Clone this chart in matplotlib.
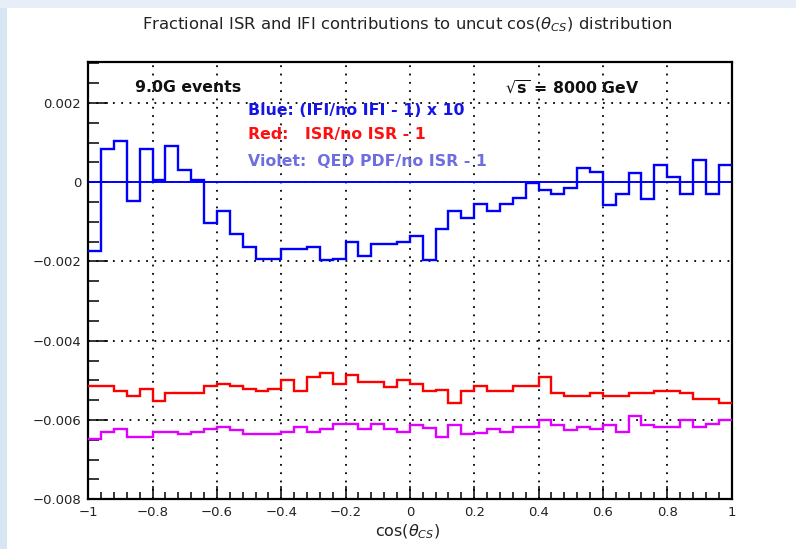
import numpy as np
import matplotlib
matplotlib.use("Agg")
import matplotlib.pyplot as plt
from matplotlib.ticker import MultipleLocator, FixedLocator
from matplotlib.patches import Rectangle

# ---- data -------------------------------------------------------------
bin_edges = np.linspace(-1.0, 1.0, 51)

blue_ifi_x10 = [
    -0.00173, 0.00085, 0.00104, -0.00048, 0.00085, 0.00006, 0.00091, 0.00031, 0.00006, -0.00103,
    -0.00072, -0.00130, -0.00163, -0.00193, -0.00193, -0.00168, -0.00168, -0.00163, -0.00197, -0.00193,
    -0.00150, -0.00186, -0.00157, -0.00157, -0.00150, -0.00136, -0.00197, -0.00119, -0.00072, -0.00090,
    -0.00054, -0.00072, -0.00054, -0.00040, -0.00002, -0.00019, -0.00029, -0.00015, 0.00037, 0.00025,
    -0.00058, -0.00029, 0.00024, -0.00042, 0.00043, 0.00014, -0.00029, 0.00056, -0.00029, 0.00043,
]

red_isr = [
    -0.00515, -0.00515, -0.00528, -0.00540, -0.00521, -0.00552, -0.00533, -0.00533, -0.00533, -0.00515,
    -0.00508, -0.00515, -0.00521, -0.00528, -0.00521, -0.00498, -0.00528, -0.00492, -0.00481, -0.00508,
    -0.00486, -0.00504, -0.00504, -0.00517, -0.00498, -0.00508, -0.00528, -0.00523, -0.00557, -0.00528,
    -0.00515, -0.00528, -0.00528, -0.00515, -0.00515, -0.00492, -0.00532, -0.00540, -0.00540, -0.00533,
    -0.00540, -0.00540, -0.00533, -0.00533, -0.00528, -0.00528, -0.00533, -0.00546, -0.00546, -0.00557,
]

violet_qedpdf = [
    -0.00648, -0.00629, -0.00623, -0.00642, -0.00642, -0.00629, -0.00629, -0.00636, -0.00629, -0.00623,
    -0.00618, -0.00625, -0.00636, -0.00636, -0.00636, -0.00629, -0.00618, -0.00629, -0.00623, -0.00611,
    -0.00611, -0.00623, -0.00611, -0.00623, -0.00629, -0.00613, -0.00621, -0.00642, -0.00613, -0.00636,
    -0.00632, -0.00623, -0.00629, -0.00618, -0.00618, -0.00600, -0.00613, -0.00625, -0.00618, -0.00623,
    -0.00613, -0.00629, -0.00590, -0.00613, -0.00618, -0.00618, -0.00600, -0.00618, -0.00611, -0.00600,
]

x_ticks = [-1, -0.8, -0.6, -0.4, -0.2, 0, 0.2, 0.4, 0.6, 0.8, 1]
x_tick_labels = ["\u22121", "\u22120.8", "\u22120.6", "\u22120.4", "\u22120.2", "0",
                 "0.2", "0.4", "0.6", "0.8", "1"]
y_ticks = [-0.008, -0.006, -0.004, -0.002, 0.0, 0.002]
y_tick_labels = ["\u22120.008", "\u22120.006", "\u22120.004", "\u22120.002", "0", "0.002"]

# ---- figure -----------------------------------------------------------
W, H = 796, 549
fig = plt.figure(figsize=(W / 100, H / 100), dpi=100)
fig.patch.set_facecolor("white")

# light blue window strips (left & top)
fig.patches.append(Rectangle((0, 0), 7 / W, 1, transform=fig.transFigure,
                             facecolor="#d8e5f4", edgecolor="none", zorder=0))
fig.patches.append(Rectangle((0, 1 - 8 / H), 1, 8 / H, transform=fig.transFigure,
                             facecolor="#e7eef8", edgecolor="none", zorder=0))

left, right, top, bottom = 88.3, 731.5, 61.7, 499.3
ax = fig.add_axes([left / W, 1 - bottom / H, (right - left) / W, (bottom - top) / H])
ax.set_xlim(-1, 1)
ax.set_ylim(-0.008, 0.00304)

# grid
for xv in x_ticks[1:-1]:
    ax.axvline(xv, color="black", lw=1.3, ls=(0, (1, 3.6)), zorder=1)
for yv in y_ticks[1:]:
    ax.axhline(yv, color="black", lw=1.3, ls=(0, (1, 3.6)), zorder=1)

# zero line
ax.axhline(0.0, color="#0000ff", lw=1.4, zorder=2)

ax.stairs(blue_ifi_x10, bin_edges, color="#0000ff", lw=1.7, baseline=None, zorder=3)
ax.stairs(red_isr, bin_edges, color="#ff0000", lw=1.7, baseline=None, zorder=3)
ax.stairs(violet_qedpdf, bin_edges, color="#e000ff", lw=1.7, baseline=None, zorder=3)

# ticks
ax.xaxis.set_major_locator(FixedLocator(x_ticks))
ax.set_xticklabels(x_tick_labels)
ax.yaxis.set_major_locator(FixedLocator(y_ticks))
ax.set_yticklabels(y_tick_labels)
ax.xaxis.set_minor_locator(MultipleLocator(0.04))
ax.yaxis.set_minor_locator(MultipleLocator(0.0005))
ax.tick_params(axis="x", which="major", direction="in", length=9.4, width=1.1,
               pad=5, labelsize=9.5, labelcolor="#222222", top=False)
ax.tick_params(axis="x", which="minor", direction="in", length=4.7, width=1.1, top=False)
ax.tick_params(axis="y", which="major", direction="in", length=14.4, width=1.1,
               pad=5, labelsize=9.5, labelcolor="#222222", right=False)
ax.tick_params(axis="y", which="minor", direction="in", length=7.9, width=1.1, right=False)
for s in ax.spines.values():
    s.set_linewidth(1.6)
    s.set_color("black")

# texts
def dx(px):
    return -1 + (px - left) / (right - left) * 2

def dy(py):
    return (182.3 - py) / 39.63 * 1e-3

ax.text(dx(135), dy(88), "9.0G events", fontsize=11.3, fontweight="bold",
        color="#111111", va="center", ha="left", zorder=5)
ax.text(dx(505), dy(88), r"$\mathbf{\sqrt{s}}$ = 8000 GeV", fontsize=11.3,
        fontweight="bold", color="#111111", va="center", ha="left", zorder=5)
ax.text(dx(248), dy(111), "Blue: (IFI/no IFI - 1) x 10", fontsize=11.3,
        fontweight="bold", color="#1515e8", va="center", ha="left", zorder=5)
ax.text(dx(248), dy(135), "Red:   ISR/no ISR - 1", fontsize=11.3,
        fontweight="bold", color="#ff1010", va="center", ha="left", zorder=5)
ax.text(dx(248), dy(162), "Violet:  QED PDF/no ISR - 1", fontsize=11.3,
        fontweight="bold", color="#6e6ee0", va="center", ha="left", zorder=5)

fig.text(407 / W, 1 - 25 / H,
         r"Fractional ISR and IFI contributions to uncut cos($\theta_{CS}$) distribution",
         fontsize=11.8, ha="center", va="center", color="#222222")
fig.text(408 / W, 1 - 532 / H, r"cos($\theta_{CS}$)", fontsize=11.5,
         ha="center", va="center", color="#222222")

fig.savefig("out.png", dpi=100, facecolor=fig.get_facecolor())
